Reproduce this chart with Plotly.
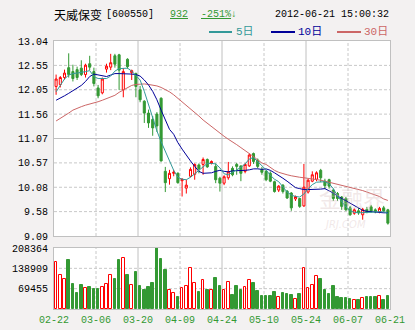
import plotly.graph_objects as go

# ---------------- data ----------------
opens = [12.12, 12.16, 12.30, 12.50, 12.42, 12.46, 12.49, 12.36, 12.58, 12.42,
         12.09, 11.99, 12.47, 12.51, 12.74, 12.76, 12.05, 12.67, 12.40, 12.38,
         12.05, 11.82, 11.58, 11.45, 11.56, 11.88, 10.40, 10.25, 10.36, 10.36,
         10.21, 10.06, 10.30, 10.34, 10.53, 10.54, 10.64, 10.56, 10.50, 10.26,
         10.16, 10.27, 10.46, 10.54, 10.51, 10.40, 10.51, 10.76, 10.63, 10.44,
         10.40, 10.36, 10.19, 10.02, 10.12, 10.00, 9.96, 9.84, 9.85, 9.70,
         9.98, 10.20, 10.24, 10.42, 10.20, 10.23, 10.02, 9.95, 9.88, 9.85,
         9.66, 9.55, 9.60, 9.52, 9.63, 9.68, 9.62, 9.58, 9.66, 9.62]
highs = [12.36, 12.33, 12.46, 12.79, 12.56, 12.52, 12.65, 12.58, 12.74, 12.50,
         12.15, 12.30, 12.58, 12.78, 12.78, 12.78, 12.49, 12.69, 12.46, 12.40,
         12.13, 11.84, 11.65, 11.52, 11.60, 11.90, 10.49, 10.43, 10.43, 10.38,
         10.26, 10.23, 10.48, 10.56, 10.56, 10.68, 10.66, 10.62, 10.56, 10.29,
         10.32, 10.59, 10.50, 10.57, 10.52, 10.56, 10.76, 10.78, 10.66, 10.49,
         10.43, 10.40, 10.21, 10.12, 10.14, 10.02, 9.98, 9.91, 9.86, 10.55,
         10.25, 10.40, 10.40, 10.45, 10.25, 10.25, 10.05, 9.98, 9.90, 9.88,
         9.70, 9.65, 9.66, 9.66, 9.68, 9.72, 9.65, 9.68, 9.70, 9.64]
lows = [11.95, 12.10, 12.26, 12.30, 12.22, 12.25, 12.33, 12.30, 12.45, 12.12,
        11.88, 11.96, 12.40, 12.45, 12.50, 12.05, 11.90, 12.48, 12.25, 11.90,
        11.80, 11.38, 11.28, 11.12, 11.20, 10.60, 9.98, 10.13, 10.30, 10.15,
        9.89, 9.95, 10.28, 10.23, 10.36, 10.33, 10.47, 10.54, 10.16, 9.99,
        10.12, 10.23, 10.30, 10.33, 10.20, 10.36, 10.49, 10.55, 10.46, 10.33,
        10.20, 10.18, 9.97, 9.98, 9.95, 9.84, 9.60, 9.80, 9.66, 9.68,
        9.95, 10.18, 10.20, 10.18, 10.04, 10.05, 9.80, 9.80, 9.62, 9.60,
        9.50, 9.52, 9.52, 9.42, 9.55, 9.56, 9.55, 9.55, 9.57, 9.32]
closes = [12.27, 12.30, 12.39, 12.36, 12.28, 12.30, 12.36, 12.55, 12.51, 12.18,
          11.93, 12.27, 12.53, 12.60, 12.57, 12.45, 12.42, 12.52, 12.44, 12.12,
          11.85, 11.58, 11.38, 11.28, 11.32, 10.61, 10.17, 10.36, 10.38, 10.17,
          10.24, 10.12, 10.44, 10.54, 10.45, 10.64, 10.49, 10.60, 10.23, 10.16,
          10.29, 10.39, 10.33, 10.50, 10.36, 10.54, 10.73, 10.60, 10.50, 10.38,
          10.23, 10.20, 9.99, 10.10, 9.99, 9.86, 9.66, 9.89, 9.69, 10.08,
          10.22, 10.33, 10.37, 10.27, 10.11, 10.10, 9.85, 9.85, 9.69, 9.62,
          9.52, 9.62, 9.56, 9.63, 9.58, 9.59, 9.58, 9.65, 9.60, 9.35]
volumes = [159400, 116100, 101300, 167400, 85400, 55800, 82000, 70600, 74000, 67200,
           67200, 74000, 86100, 117800, 101300, 167400, 173100, 116100, 82000, 126400,
           78600, 64900, 74000, 89900, 208364, 170700, 133200, 64900, 55800, 42000,
           70600, 78600, 138900, 89900, 59200, 99100, 64900, 64900, 107000, 79700,
           64900, 91100, 47800, 78600, 64900, 74000, 99100, 89900, 61500, 44400,
           44400, 44400, 58900, 39900, 55000, 51200, 47800, 34200, 51200, 138900,
           70600, 82000, 112700, 102500, 64900, 51200, 78600, 42000, 36400, 36400,
           34200, 31000, 31000, 36400, 39900, 39900, 39900, 44400, 31000, 44400]
ma5 = [12.01, 12.15, 12.27, 12.35, 12.38, 12.39, 12.40, 12.42, 12.44, 12.32,
       12.28, 12.28, 12.28, 12.33, 12.43, 12.48, 12.49, 12.49, 12.43, 12.34,
       12.25, 12.02, 11.75, 11.48, 11.22, 11.00, 10.80, 10.63, 10.42, 10.28,
       10.24, 10.23, 10.28, 10.35, 10.42, 10.50, 10.56, 10.56, 10.55, 10.47,
       10.35, 10.33, 10.38, 10.43, 10.48, 10.55, 10.65, 10.68, 10.60, 10.52,
       10.43, 10.32, 10.24, 10.19, 10.08, 9.98, 9.92, 9.89, 9.88, 9.94,
       10.05, 10.13, 10.18, 10.19, 10.19, 10.15, 10.05, 9.90, 9.78, 9.68,
       9.60, 9.57, 9.56, 9.56, 9.56, 9.57, 9.58, 9.58, 9.58, 9.55]
ma10 = [11.84, 11.88, 11.93, 11.98, 12.03, 12.08, 12.14, 12.22, 12.32, 12.37,
        12.35, 12.33, 12.32, 12.35, 12.38, 12.38, 12.38, 12.37, 12.37, 12.36,
        12.33, 12.25, 12.15, 12.02, 11.85, 11.64, 11.45, 11.25, 11.15, 10.98,
        10.85, 10.72, 10.61, 10.50, 10.40, 10.36, 10.37, 10.37, 10.40, 10.42,
        10.40, 10.39, 10.41, 10.41, 10.42, 10.42, 10.43, 10.45, 10.45, 10.44,
        10.45, 10.42, 10.37, 10.32, 10.26, 10.20, 10.13, 10.07, 10.05, 10.03,
        10.03, 10.03, 10.03, 10.04, 10.05, 10.01, 9.96, 9.90, 9.85, 9.80,
        9.75, 9.70, 9.65, 9.61, 9.59, 9.58, 9.58, 9.57, 9.56, 9.56]
ma30 = [11.42, 11.47, 11.52, 11.58, 11.64, 11.68, 11.71, 11.74, 11.76, 11.78,
        11.81, 11.84, 11.87, 11.90, 11.94, 12.00, 12.05, 12.10, 12.14, 12.16,
        12.17, 12.17, 12.16, 12.15, 12.13, 12.10, 12.06, 12.01, 11.95, 11.88,
        11.81, 11.74, 11.67, 11.60, 11.52, 11.44, 11.37, 11.30, 11.23, 11.17,
        11.11, 11.05, 11.00, 10.94, 10.88, 10.82, 10.77, 10.70, 10.63, 10.57,
        10.54, 10.48, 10.42, 10.38, 10.35, 10.33, 10.31, 10.29, 10.28, 10.27,
        10.26, 10.25, 10.24, 10.22, 10.20, 10.18, 10.15, 10.13, 10.11, 10.09,
        10.07, 10.05, 10.03, 10.01, 9.98, 9.95, 9.92, 9.89, 9.84, 9.81]
date_labels = ["02-22", "03-06", "03-20", "04-09", "04-24", "05-10", "05-24", "06-07", "06-21"]
price_labels = ["9.09", "9.58", "10.08", "10.57", "11.07", "11.56", "12.05", "12.55", "13.04"]
vol_labels = ["69455", "138909", "208364"]
price_min, price_max = 9.09, 13.04
vol_max = 208364

# ---------------- styling ----------------
RED = "#ff0000"
GREEN = "#339933"
C5 = "#339999"
C10 = "#000099"
C30 = "#cc6666"
GRID = "#c8c8c8"
FRAME = "#c0c0c0"
BG = "#f3f1f1"
MONO = "Liberation Mono, DejaVu Sans Mono, monospace"
CJK = "Noto Sans CJK SC"

W, H = 415, 330
px = lambda v: v / W
py = lambda v: 1 - v / H

n = len(closes)
xs = list(range(n))
up = [c >= o for o, c in zip(opens, closes)]

fig = go.Figure()

fig.add_trace(go.Candlestick(
    x=xs, open=opens, high=highs, low=lows, close=closes,
    increasing=dict(line=dict(color=RED, width=1), fillcolor="#ffffff"),
    decreasing=dict(line=dict(color=GREEN, width=1), fillcolor=GREEN),
    whiskerwidth=0, xaxis="x", yaxis="y", showlegend=False, hoverinfo="skip"))

for ma, col in ((ma30, C30), (ma10, C10), (ma5, C5)):
    fig.add_trace(go.Scatter(x=xs, y=ma, mode="lines", line=dict(color=col, width=1),
                             xaxis="x", yaxis="y", showlegend=False, hoverinfo="skip"))

fig.add_trace(go.Bar(
    x=xs, y=volumes, width=0.62,
    marker=dict(color=["#ffffff" if u else GREEN for u in up],
                line=dict(color=[RED if u else GREEN for u in up], width=1)),
    xaxis="x2", yaxis="y2", showlegend=False, hoverinfo="skip"))

x_lo, x_hi = -0.5, n - 0.5
xtick_vals = [x_lo + 10 * k for k in range(len(date_labels))]
price_tick_vals = [price_min + k * (price_max - price_min) / (len(price_labels) - 1)
                   for k in range(len(price_labels))]
vol_tick_vals = [vol_max * (k + 1) / len(vol_labels) for k in range(len(vol_labels))]

dom_x = [px(54), px(390)]
common_x = dict(range=[x_lo, x_hi], domain=dom_x, showgrid=False, zeroline=False,
                showline=True, mirror=True, linecolor=FRAME, linewidth=1,
                rangeslider=dict(visible=False), fixedrange=True, automargin=False)

fig.update_layout(
    template="none",
    width=W, height=H, autosize=False,
    margin=dict(l=0, r=0, t=0, b=0, pad=0),
    paper_bgcolor=BG, plot_bgcolor="#ffffff",
    bargap=0,
    xaxis=dict(**common_x, anchor="y", showticklabels=False, ticks=""),
    yaxis=dict(range=[price_min, price_max], domain=[py(236), py(41)], anchor="x",
               tickmode="array", tickvals=price_tick_vals, ticktext=price_labels,
               showgrid=False, zeroline=False, showline=True, mirror=True,
               linecolor=FRAME, linewidth=1, ticks="", ticklabelstandoff=3,
               automargin=False, fixedrange=True,
               tickfont=dict(family=MONO, size=10, color="#000000")),
    xaxis2=dict(**common_x, anchor="y2", matches="x", tickmode="array",
                tickvals=xtick_vals, ticktext=date_labels, ticks="",
                ticklabelstandoff=1,
                tickfont=dict(family=MONO, size=10, color=GREEN)),
    yaxis2=dict(range=[0, vol_max], domain=[py(309), py(248)], anchor="x2",
                tickmode="array", tickvals=vol_tick_vals, ticktext=vol_labels,
                showgrid=False, zeroline=False, showline=True, mirror=True,
                linecolor=FRAME, linewidth=1, ticks="", ticklabelstandoff=3,
                automargin=False, fixedrange=True,
                tickfont=dict(family=MONO, size=10, color="#000000")),
)

shapes = []
# vertical grid lines
for k, xv in enumerate(xtick_vals[1:-1], start=1):
    solid = (k % 2 == 0)
    for yref, y0, y1 in (("y", price_min, price_max), ("y2", 0, vol_max)):
        shapes.append(dict(type="line", xref="x" if yref == "y" else "x2", yref=yref,
                           x0=xv, x1=xv, y0=y0, y1=y1, layer="below",
                           line=dict(color=FRAME if solid else GRID, width=1,
                                     dash="solid" if solid else "3px,2px")))
# horizontal grid lines, price
mid = len(price_tick_vals) // 2
for k, yv in enumerate(price_tick_vals[1:-1], start=1):
    solid = (k == mid)
    shapes.append(dict(type="line", xref="x", yref="y", x0=x_lo, x1=x_hi, y0=yv, y1=yv,
                       layer="below",
                       line=dict(color=FRAME if solid else GRID, width=1,
                                 dash="solid" if solid else "3px,2px")))
# horizontal grid lines, volume
for yv in vol_tick_vals[:-1]:
    shapes.append(dict(type="line", xref="x2", yref="y2", x0=x_lo, x1=x_hi, y0=yv, y1=yv,
                       layer="below", line=dict(color=GRID, width=1, dash="3px,2px")))

# legend line samples
legend = [("5日", C5, 209, 232, 236), ("10日", C10, 271, 295, 298), ("30日", C30, 337, 361, 364)]
for label, col, lx0, lx1, tx in legend:
    shapes.append(dict(type="line", xref="paper", yref="paper", x0=px(lx0), x1=px(lx1),
                       y0=py(32), y1=py(32), line=dict(color=col, width=2)))
fig.update_layout(shapes=shapes)

ann = []
def text(x, y, s, color="#000000", family=MONO, size=10, anchor="left"):
    ann.append(dict(xref="paper", yref="paper", x=px(x), y=py(y), text=s, showarrow=False,
                    xanchor=anchor, yanchor="middle", borderpad=0,
                    font=dict(family=family, size=size, color=color)))

text(53, 15, "天威保变", family=CJK, size=12)
text(105, 15, "[600550]")
text(169, 14, "<u>932</u>", color=GREEN)
text(200, 14, "<u>-251%</u>↓", color=GREEN)
text(390, 15, "2012-06-21 15:00:32", anchor="right")
for label, col, lx0, lx1, tx in legend:
    text(tx - 1, 32, label, color=col, family=MONO + ", " + CJK, size=11)
# faint watermark
text(352, 197, "金融界", color="rgba(215,190,190,0.35)", family=CJK, size=22, anchor="center")
text(345, 225, "<i>JRJ.COM</i>", color="rgba(215,190,190,0.35)", family="DejaVu Sans", size=10, anchor="center")
fig.update_layout(annotations=ann)

fig.write_html("out.html")
